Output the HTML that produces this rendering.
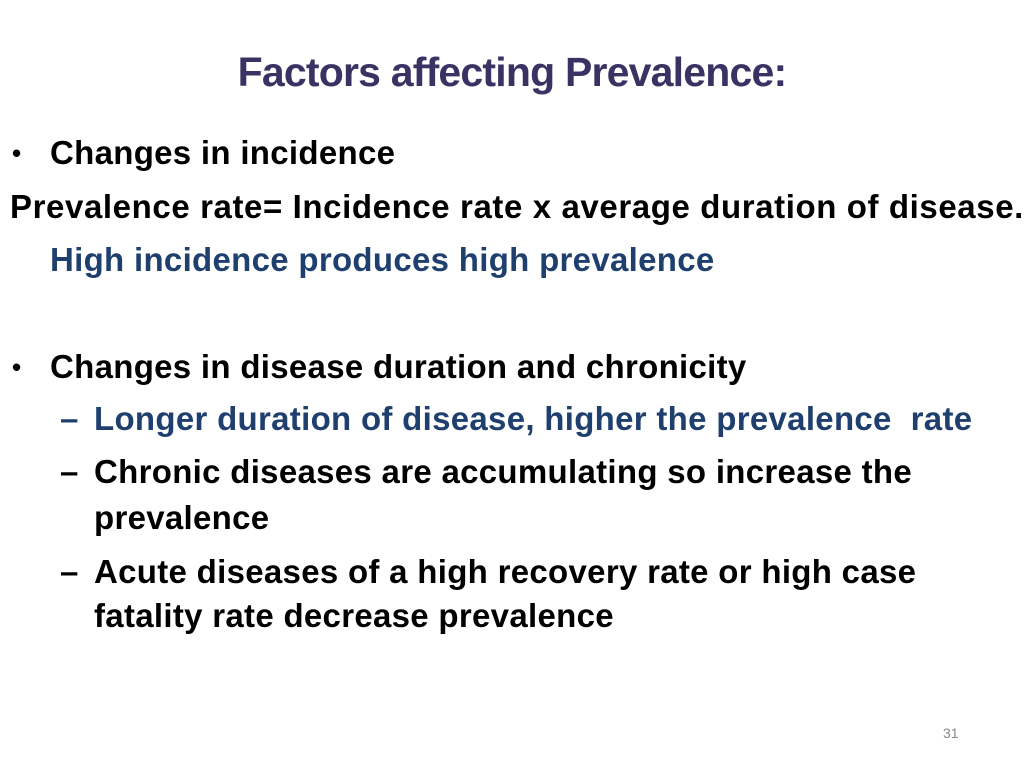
<!DOCTYPE html>
<html><head><meta charset="utf-8"><style>
body{margin:0;width:1024px;height:768px;background:#fff;position:relative;overflow:hidden;font-family:"Liberation Sans",Arial,sans-serif}
.t{position:absolute;white-space:nowrap;font-weight:bold;font-size:33px;line-height:34px;color:#000;letter-spacing:0.3px}
.b{color:#1f3f6e}
#title{position:absolute;left:0;width:1024px;text-align:center;top:48px;font-size:41px;line-height:48px;font-weight:bold;color:#3b3163;letter-spacing:-0.8px}
#pg{position:absolute;left:943px;top:725px;font-size:14px;color:#888}
</style></head><body>
<div id="title">Factors affecting Prevalence:</div>
<div class="t" style="left:12px;top:136px;font-size:26px">•</div>
<div class="t" style="left:50px;top:136px">Changes in incidence</div>
<div class="t" style="left:10px;top:190px;letter-spacing:0.6px">Prevalence rate= Incidence rate x average duration of disease.</div>
<div class="t b" style="left:50px;top:243px">High incidence produces high prevalence</div>
<div class="t" style="left:12px;top:350px;font-size:26px">•</div>
<div class="t" style="left:50px;top:350px">Changes in disease duration and chronicity</div>
<div class="t b" style="left:60px;top:402px">–</div>
<div class="t b" style="left:94px;top:402px">Longer duration of disease, higher the prevalence&nbsp; rate</div>
<div class="t" style="left:60px;top:455px">–</div>
<div class="t" style="left:94px;top:455px">Chronic diseases are accumulating so increase the</div>
<div class="t" style="left:94px;top:501px">prevalence</div>
<div class="t" style="left:60px;top:555px">–</div>
<div class="t" style="left:94px;top:555px">Acute diseases of a high recovery rate or high case</div>
<div class="t" style="left:94px;top:599px">fatality rate decrease prevalence</div>
<div id="pg">31</div>
</body></html>
